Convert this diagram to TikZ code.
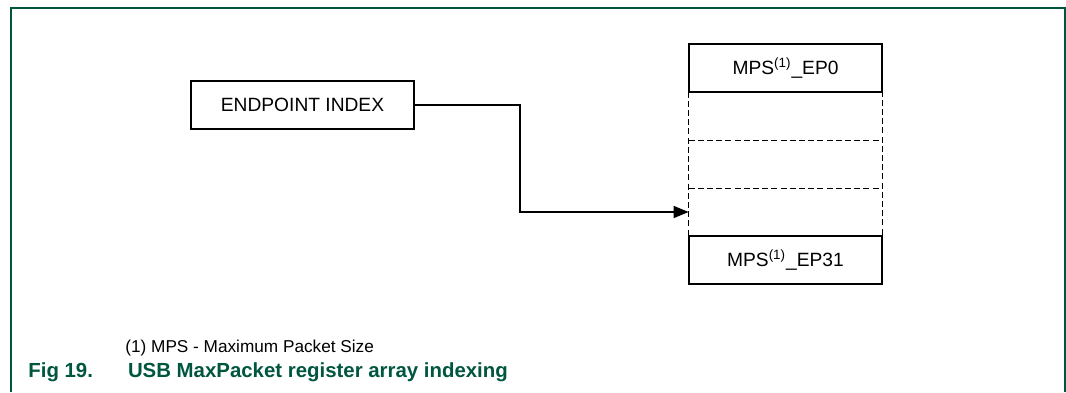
\documentclass[tikz,border=0pt]{standalone}
\usepackage{fontspec}
\setmainfont{Liberation Sans}
\usepackage{tikz}
\usetikzlibrary{arrows.meta}
\definecolor{figgreen}{HTML}{00563F}

\begin{document}
\begin{tikzpicture}[x=0.5pt,y=-0.5pt,
    every node/.style={font=\fontsize{9.6}{11}\selectfont},
    regbox/.style={draw,line width=0.75pt,minimum width=96.5pt,minimum height=24pt,inner sep=0pt},
    slot/.style={minimum width=96.5pt,minimum height=24pt,inner sep=0pt},
    dashline/.style={line width=0.85pt,dash pattern=on 3pt off 1.6pt}]
  \useasboundingbox (0,0) rectangle (1066,392);
  % frame
  \draw[figgreen,line width=0.6pt] (11,392) -- (11,8) -- (1065,8) -- (1065,392);
  % index box
  \node[regbox,minimum width=111.5pt] (idx) at (302.5,105) {ENDPOINT INDEX};
  % register array, dashed rows first
  \node[slot] (rowa) at (785.5,116) {};
  \node[slot] (rowb) at (785.5,164) {};
  \node[slot] (rowc) at (785.5,212) {};
  \draw[dashline] (rowa.north west) rectangle (rowc.south east);
  \draw[dashline] (rowa.south west) -- (rowa.south east);
  \draw[dashline] (rowb.south west) -- (rowb.south east);
  \node[regbox] (ep0) at (785.5,68) {MPS\textsuperscript{(1)}\_EP0};
  \node[regbox] (ep31) at (785.5,260) {MPS\textsuperscript{(1)}\_EP31};
  % connector
  \coordinate (bend) at (520,105);
  \draw[line width=0.75pt,-{Triangle[length=7.5pt,width=6pt]}] (idx.east) -- (bend) |- (rowc.west);
  % notes
  \node[anchor=west,inner sep=0pt,font=\fontsize{8.6}{10}\selectfont] (note) at (125,348) {(1) MPS - Maximum Packet Size};
  \node[anchor=west,inner sep=0pt,text=figgreen,font=\fontsize{10.2}{12}\selectfont\bfseries] (cap) at (28,372)
    {Fig 19.\hspace{17.5pt}USB MaxPacket register array indexing};
\end{tikzpicture}
\end{document}
